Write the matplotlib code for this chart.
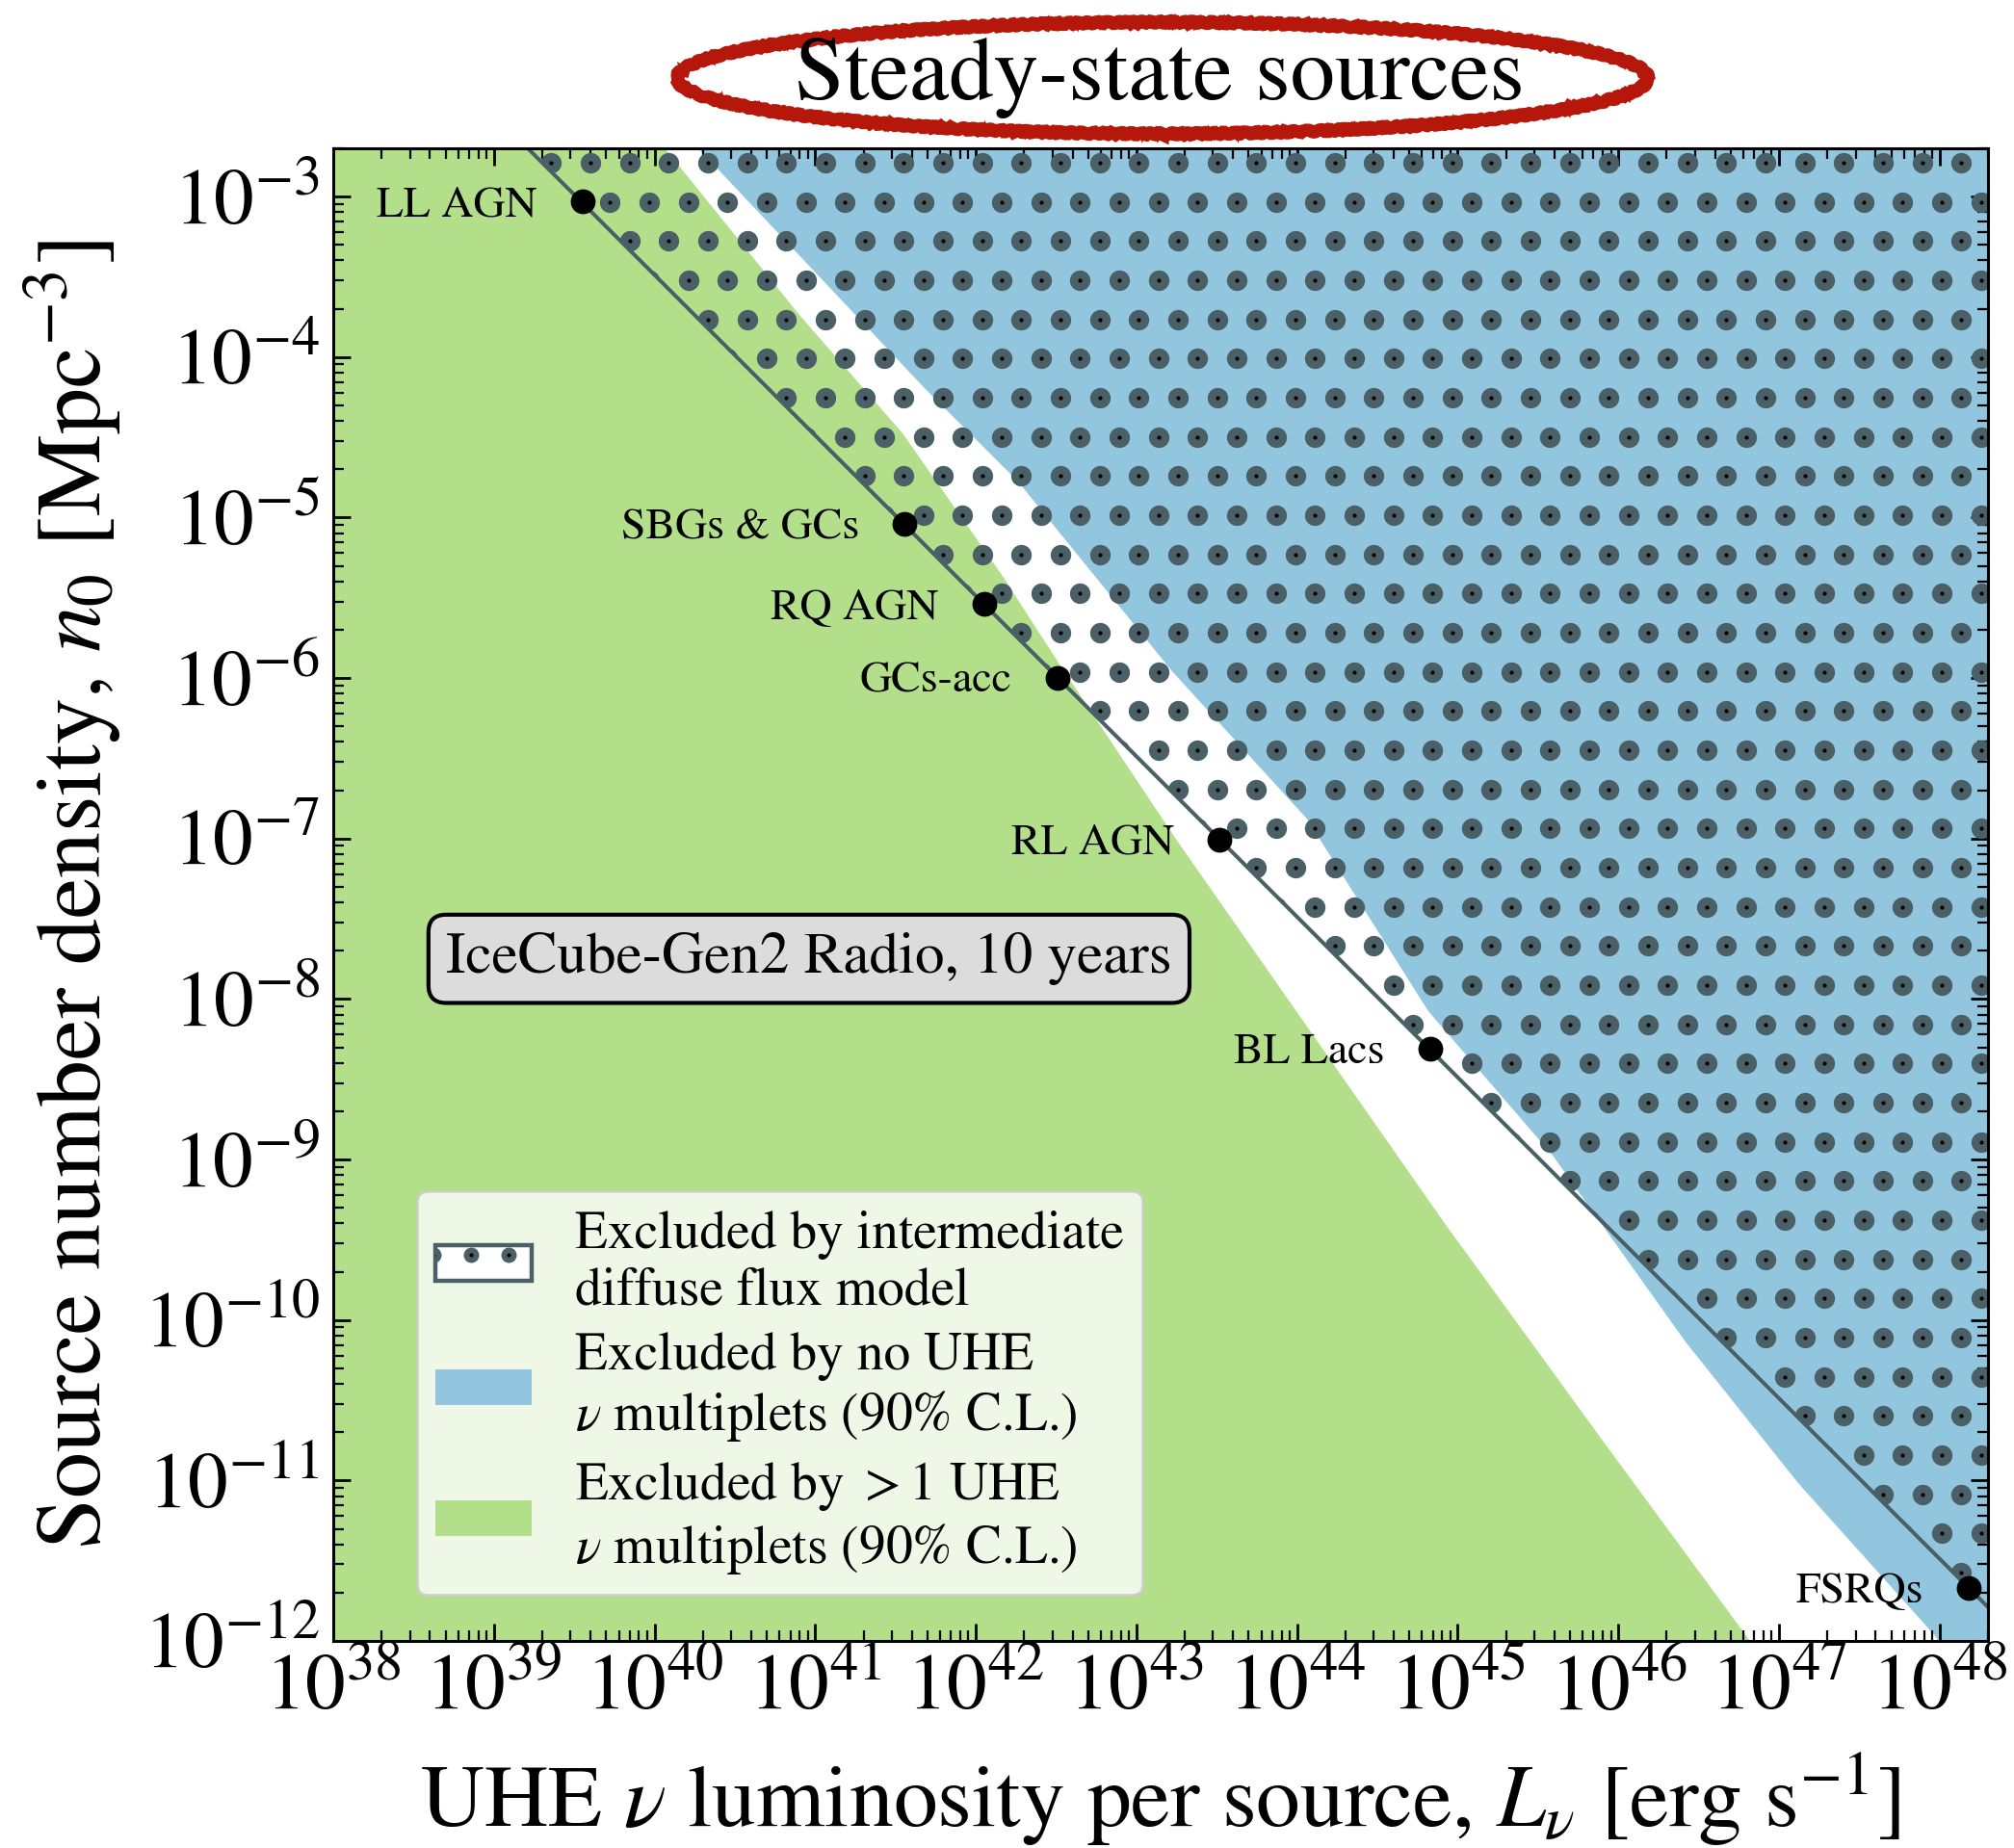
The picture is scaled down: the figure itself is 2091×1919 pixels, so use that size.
import matplotlib

matplotlib.use("Agg")
import matplotlib.pyplot as plt
import numpy as np
from matplotlib.legend_handler import HandlerBase
from matplotlib.lines import Line2D
from matplotlib.patches import Ellipse, Patch, Rectangle
from matplotlib.ticker import LogLocator, NullFormatter
from matplotlib.transforms import IdentityTransform

DPI = 200
FIG_W, FIG_H = 2091 / DPI, 1919 / DPI

GREEN = "#b3df8a"
BLUE = "#92c6df"
SLATE = "#4b5f66"
RED = "#b5180b"

L_LIM = (1e38, 2e48)
N_LIM = (1e-12, 2e-3)

# source classes (luminosity per source, number density)
SOURCE_NAMES = ["LL AGN", "SBGs & GCs", "RQ AGN", "GCs-acc", "RL AGN", "BL Lacs", "FSRQs"]
SOURCE_L = [3.55e39, 3.6e41, 1.13e42, 3.22e42, 3.28e43, 6.76e44, 1.51e48]
SOURCE_N = [9.3e-4, 9.1e-6, 2.9e-6, 1.0e-6, 9.8e-8, 4.9e-9, 2.14e-12]

# intermediate diffuse flux model: n0 * L = const
DIFFUSE_L = [1.3e39, 2.5e48]
DIFFUSE_N = [2.5e-3, 1.3e-12]

# boundary of "> 1 multiplet" exclusion (green, left of curve)
GREEN_L = [8.1e39, 1.16e40, 7.98e40, 3.5e41, 1.45e42, 3.32e42, 1.74e43, 8.3e44, 8.34e45, 6.6e46, 8.9e46]
GREEN_N = [3.0e-3, 2.0e-3, 1.83e-4, 3.35e-5, 4.4e-6, 1.22e-6, 1.01e-7, 4.0e-10, 1.67e-11, 1.0e-12, 6.6e-13]

# boundary of "no multiplet" exclusion (blue, right of curve)
BLUE_L = [1.35e40, 1.87e40, 4.8e41, 1.83e42, 1.67e43, 1.15e44, 6.56e44, 3.9e45, 2.62e46, 1.32e47, 9.5e47, 1.09e48]
BLUE_N = [3.0e-3, 2.0e-3, 6.4e-5, 1.68e-5, 1.1e-6, 1.33e-7, 8.4e-9, 1.06e-9, 7.3e-11, 9.6e-12, 1.06e-12, 8.0e-13]

LEGEND_LABELS = [
    "Excluded by intermediate\ndiffuse flux model",
    "Excluded by no UHE\n$\\nu$ multiplets (90% C.L.)",
    "Excluded by $>1$ UHE\n$\\nu$ multiplets (90% C.L.)",
]

plt.rcParams["font.family"] = ["STIXGeneral", "DejaVu Serif"]
plt.rcParams["mathtext.fontset"] = "stix"

DOT_STEP_PX = 40.67
DOT_MS = 21.3 * 72 / DPI
CORE_MS = 4.2 * 72 / DPI


class DottedBoxHandler(HandlerBase):
    def create_artists(self, legend, orig_handle, xdescent, ydescent, width, height, fontsize, trans):
        box = Rectangle((-xdescent, -ydescent), width, height, facecolor="white",
                        edgecolor=SLATE, linewidth=1.6, transform=trans)
        xs = -xdescent + width * np.array([-0.02, 0.37, 0.76])
        ys = np.full(3, -ydescent + height * 0.72)
        ring = Line2D(xs, ys, ls="none", marker="o", ms=DOT_MS * 0.75, mfc=SLATE, mec="none", transform=trans)
        core = Line2D(xs, ys, ls="none", marker="o", ms=CORE_MS, mfc="black", mec="none", transform=trans)
        ring.set_clip_path(box)
        core.set_clip_path(box)
        return [box, ring, core]


def dot_grid(ax_w_px, ax_h_px):
    # hex-packed texture used as the hatch of the diffuse-flux exclusion
    xs, ys = [], []
    for k, y in enumerate(np.arange(15.0, ax_h_px, DOT_STEP_PX)):
        x0 = 22.95 if k % 2 == 0 else 2.62
        row = np.arange(x0, ax_w_px + DOT_STEP_PX, DOT_STEP_PX)
        xs.append(row)
        ys.append(np.full(row.size, y))
    xs = np.concatenate(xs) / ax_w_px
    ys = 1 - np.concatenate(ys) / ax_h_px
    return xs, ys


def main() -> None:
    fig = plt.figure(figsize=(FIG_W, FIG_H), dpi=DPI)
    ax = fig.add_axes([346 / 2091, 1 - 1704 / 1919, 1718 / 2091, 1550 / 1919])
    ax.set_xscale("log")
    ax.set_yscale("log")
    ax.set_xlim(*L_LIM)
    ax.set_ylim(*N_LIM)

    ax.fill_betweenx(GREEN_N, GREEN_L, 1e36, facecolor=GREEN, edgecolor="none", zorder=1)
    ax.fill_betweenx(BLUE_N, BLUE_L, 1e50, facecolor=BLUE, edgecolor="none", zorder=1)

    hatch_region = ax.fill_between(DIFFUSE_L, DIFFUSE_N, 1e-1, facecolor="none", edgecolor="none", zorder=2)
    # region above the diffuse line, cut to the axes box (in display pixels)
    region_px = ax.transData.transform_path(hatch_region.get_paths()[0]).clip_to_bbox(ax.bbox)
    gx, gy = dot_grid(1718, 1550)
    for size, colour in [(DOT_MS, SLATE), (CORE_MS, "black")]:
        dots = ax.scatter(gx, gy, s=size ** 2, c=colour, linewidths=0, transform=ax.transAxes, zorder=2)
        dots.set_clip_path(region_px, IdentityTransform())

    ax.plot(DIFFUSE_L, DIFFUSE_N, color=SLATE, lw=1.45, zorder=3)
    ax.plot(SOURCE_L, SOURCE_N, ls="none", marker="o", ms=8.3, color="black", zorder=4)
    for name, lum, dens in zip(SOURCE_NAMES, SOURCE_L, SOURCE_N):
        ax.annotate(name, (lum, dens), xytext=(-17, -1.5), textcoords="offset points",
                    ha="right", va="center", fontsize=16.5, zorder=5)

    ax.text(0.2875, 0.457, "IceCube-Gen2 Radio, 10 years", transform=ax.transAxes,
            ha="center", va="center", fontsize=22, zorder=6,
            bbox=dict(boxstyle="round,pad=0.3", facecolor="gainsboro", edgecolor="black", linewidth=1.5))

    handles = [
        Patch(facecolor="white", edgecolor=SLATE),
        Patch(facecolor=BLUE, edgecolor="none"),
        Patch(facecolor=GREEN, edgecolor="none"),
    ]
    leg = ax.legend(handles, LEGEND_LABELS, loc="lower left", bbox_to_anchor=(0.0506, 0.031),
                    borderaxespad=0, borderpad=0.35, fontsize=20, handlelength=1.8, handleheight=0.65,
                    handletextpad=0.8, labelspacing=0.3,
                    handler_map={handles[0]: DottedBoxHandler()})
    leg.set_zorder(10)

    ax.xaxis.set_major_locator(LogLocator(base=10, numticks=30))
    ax.yaxis.set_major_locator(LogLocator(base=10, numticks=30))
    ax.xaxis.set_minor_locator(LogLocator(base=10, subs=np.arange(2, 10), numticks=300))
    ax.yaxis.set_minor_locator(LogLocator(base=10, subs=np.arange(2, 10), numticks=300))
    ax.xaxis.set_minor_formatter(NullFormatter())
    ax.yaxis.set_minor_formatter(NullFormatter())
    ax.tick_params(which="both", direction="in", top=True, right=True, labelsize=30)
    ax.tick_params(which="major", length=6.5, width=1.0, pad=5)
    ax.tick_params(which="minor", length=4.0, width=0.8)
    for spine in ax.spines.values():
        spine.set_linewidth(1.1)
        spine.set_zorder(11)

    ax.set_xlabel("UHE $\\nu$ luminosity per source, $L_\\nu$ [erg s$^{-1}$]", fontsize=33, labelpad=9)
    ax.set_ylabel("Source number density, $n_0$ [Mpc$^{-3}$]", fontsize=34.5, labelpad=7)

    fig.text(0.5758, 0.958, "Steady-state sources", ha="center", va="center", fontsize=33.5)
    for lw, sketch in [(4.8, (1.2, 12, 3)), (2.2, (2.0, 6, 2)), (1.2, (2.5, 4, 2))]:
        ring = Ellipse((0.5772, 0.9578), 0.482, 0.0604, transform=fig.transFigure,
                       fill=False, edgecolor=RED, linewidth=lw)
        ring.set_sketch_params(*sketch)
        fig.add_artist(ring)

    fig.savefig("out.png", dpi=DPI)
    plt.close(fig)


if __name__ == "__main__":
    main()
